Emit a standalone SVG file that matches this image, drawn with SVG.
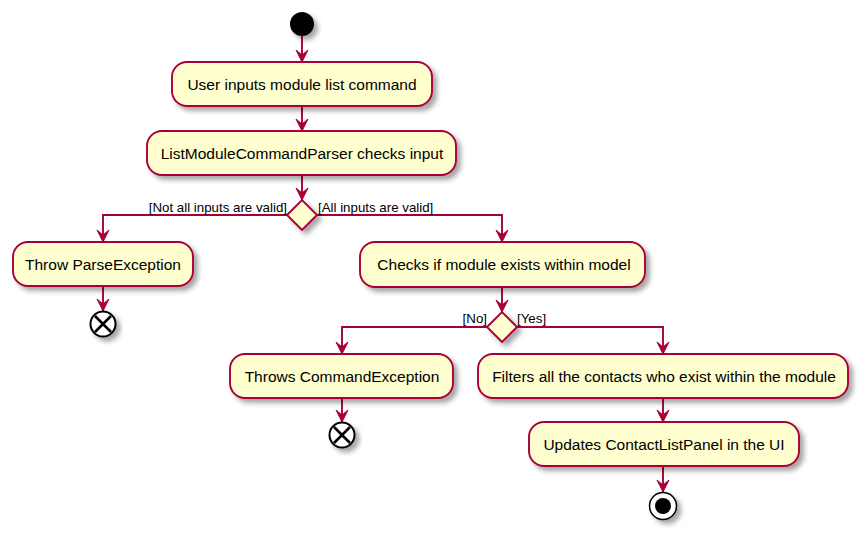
<svg xmlns="http://www.w3.org/2000/svg" width="868" height="539" viewBox="0 0 868 539">
<defs>
<filter id="sh" x="-20%" y="-20%" width="150%" height="160%">
<feGaussianBlur in="SourceAlpha" stdDeviation="2.5"/>
<feOffset dx="4" dy="4" result="b"/>
<feColorMatrix in="b" type="matrix" values="0 0 0 0 0  0 0 0 0 0  0 0 0 0 0  0 0 0 0.35 0"/>
<feMerge><feMergeNode/><feMergeNode in="SourceGraphic"/></feMerge>
</filter>
<marker id="ah" viewBox="0 0 14 14" markerWidth="14" markerHeight="14" refX="13" refY="7" orient="auto" markerUnits="userSpaceOnUse">
<path d="M1,1 L13,7 L1,13 L6,7 Z" fill="#A80036" stroke="#A80036" stroke-width="1" stroke-linejoin="miter"/>
</marker>
</defs>
<style>
.act{fill:#FEFECE;stroke:#A80036;stroke-width:1.9;filter:url(#sh)}
.t{font-family:"Liberation Sans",Arial,sans-serif;font-size:15.5px;fill:#000000;text-anchor:middle}
.lb{font-family:"Liberation Sans",Arial,sans-serif;font-size:13.3px;fill:#000000}
.ln{fill:none;stroke:#A80036;stroke-width:1.9}
</style>
<rect width="868" height="539" fill="#fff"/>
<g id="connectors">
<line class="ln" x1="302" y1="36" x2="302" y2="62" marker-end="url(#ah)"/>
<line class="ln" x1="302" y1="106" x2="302" y2="131" marker-end="url(#ah)"/>
<line class="ln" x1="302" y1="175" x2="302" y2="200" marker-end="url(#ah)"/>
<polyline class="ln" points="287,215 103,215 103,242" marker-end="url(#ah)"/>
<polyline class="ln" points="317,215 502,215 502,242" marker-end="url(#ah)"/>
<line class="ln" x1="103" y1="286" x2="103" y2="311" marker-end="url(#ah)"/>
<line class="ln" x1="502" y1="287" x2="502" y2="312" marker-end="url(#ah)"/>
<polyline class="ln" points="487,327 342,327 342,354" marker-end="url(#ah)"/>
<polyline class="ln" points="517,327 663,327 663,354" marker-end="url(#ah)"/>
<line class="ln" x1="342" y1="398" x2="342" y2="422" marker-end="url(#ah)"/>
<line class="ln" x1="663" y1="398" x2="663" y2="422" marker-end="url(#ah)"/>
<line class="ln" x1="663" y1="466" x2="663" y2="492" marker-end="url(#ah)"/>
<text class="lb" x="287" y="212" text-anchor="end">[Not all inputs are valid]</text>
<text class="lb" x="318" y="212">[All inputs are valid]</text>
<text class="lb" x="487" y="323" text-anchor="end">[No]</text>
<text class="lb" x="517" y="323">[Yes]</text>
</g>
<g id="start"><circle cx="302" cy="24" r="12" fill="#000" filter="url(#sh)"/></g>
<g id="userInput"><rect class="act" x="172" y="62" width="260" height="44" rx="15"/><text class="t" x="302" y="89.5">User inputs module list command</text></g>
<g id="parserCheck"><rect class="act" x="147" y="131" width="309" height="44" rx="15"/><text class="t" x="302" y="158.5">ListModuleCommandParser checks input</text></g>
<g id="decision1"><polygon class="act" points="287,215 302,200 317,215 302,230"/></g>
<g id="throwParse"><rect class="act" x="13" y="242" width="180" height="44" rx="15"/><text class="t" x="103" y="269.5">Throw ParseException</text></g>
<g id="end1"><g filter="url(#sh)"><circle cx="103" cy="324" r="12.5" fill="#fff" stroke="#000" stroke-width="2"/><path d="M95,316 L111,332 M111,316 L95,332" stroke="#000" stroke-width="2.6"/></g></g>
<g id="checkModule"><rect class="act" x="360" y="242" width="285" height="45" rx="15"/><text class="t" x="504" y="270">Checks if module exists within model</text></g>
<g id="decision2"><polygon class="act" points="487,327 502,312 517,327 502,342"/></g>
<g id="throwCommand"><rect class="act" x="230" y="354" width="223" height="44" rx="15"/><text class="t" x="342" y="381.5">Throws CommandException</text></g>
<g id="end2"><g filter="url(#sh)"><circle cx="342" cy="435" r="12.5" fill="#fff" stroke="#000" stroke-width="2"/><path d="M334,427 L350,443 M350,427 L334,443" stroke="#000" stroke-width="2.6"/></g></g>
<g id="filterContacts"><rect class="act" x="478" y="354" width="370" height="44" rx="15"/><text class="t" x="664" y="381.5">Filters all the contacts who exist within the module</text></g>
<g id="updatePanel"><rect class="act" x="529" y="422" width="270" height="44" rx="15"/><text class="t" x="664" y="449.5">Updates ContactListPanel in the UI</text></g>
<g id="stop"><g filter="url(#sh)"><circle cx="663" cy="506" r="13.5" fill="#fff" stroke="#000" stroke-width="1.5"/><circle cx="663" cy="506" r="8" fill="#000"/></g></g>
</svg>
